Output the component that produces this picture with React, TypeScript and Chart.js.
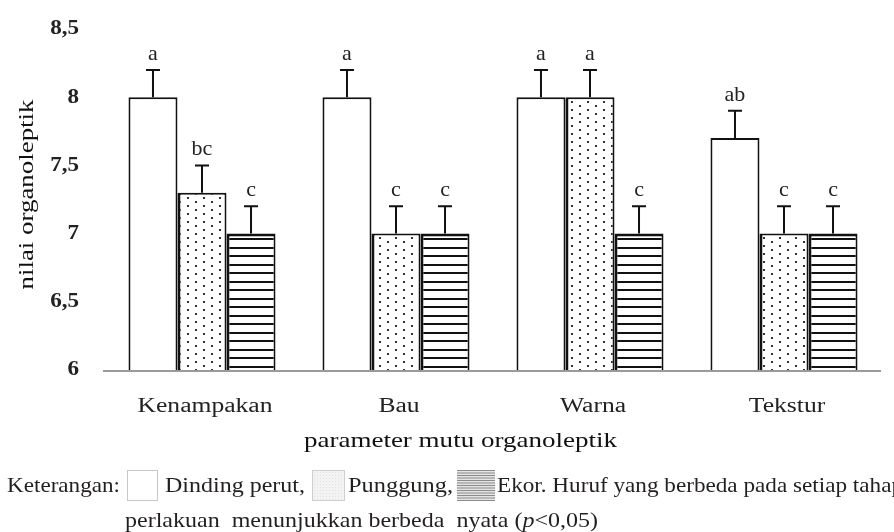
import React, { useEffect, useRef } from "react";
import { Chart, registerables } from "chart.js";

Chart.register(...registerables);

// ---------- data ----------
const categories = ["Kenampakan", "Bau", "Warna", "Tekstur"];
const seriesNames = ["Dinding perut", "Punggung", "Ekor"];
const dindingPerut = [8.0, 8.0, 8.0, 7.7];
const punggung = [7.3, 7.0, 8.0, 7.0];
const ekor = [7.0, 7.0, 7.0, 7.0];
const errDindingPerut = [0.2, 0.2, 0.2, 0.2];
const errPunggung = [0.2, 0.2, 0.2, 0.2];
const errEkor = [0.2, 0.2, 0.2, 0.2];
const lettersDindingPerut = ["a", "a", "a", "ab"];
const lettersPunggung = ["bc", "c", "a", "c"];
const lettersEkor = ["c", "c", "c", "c"];
const yTicks = [6, 6.5, 7, 7.5, 8, 8.5];
const yTickLabels = ["6", "6,5", "7", "7,5", "8", "8,5"];
const yTitle = "nilai organoleptik";
const xTitle = "parameter mutu organoleptik";

const seriesValues = [dindingPerut, punggung, ekor];
const seriesErrors = [errDindingPerut, errPunggung, errEkor];
const seriesLetters = [lettersDindingPerut, lettersPunggung, lettersEkor];

const SERIF = '"Liberation Serif", "Times New Roman", serif';

function drawText(
  ctx: CanvasRenderingContext2D,
  text: string,
  x: number,
  y: number,
  font: string,
  opts: { align?: CanvasTextAlign; sx?: number; width?: number; baseline?: CanvasTextBaseline; color?: string } = {}
) {
  ctx.save();
  ctx.font = font;
  ctx.fillStyle = opts.color ?? "#111";
  ctx.textBaseline = opts.baseline ?? "alphabetic";
  ctx.textAlign = opts.align ?? "left";
  let sx = opts.sx ?? 1;
  if (opts.width) sx = opts.width / ctx.measureText(text).width;
  ctx.translate(x, y);
  ctx.scale(sx, 1);
  ctx.fillText(text, 0, 0);
  ctx.restore();
}

function drawRich(
  ctx: CanvasRenderingContext2D,
  segs: { text: string; font: string }[],
  x: number,
  y: number,
  width: number,
  color: string
) {
  ctx.save();
  let total = 0;
  for (const s of segs) {
    ctx.font = s.font;
    total += ctx.measureText(s.text).width;
  }
  const sx = width / total;
  ctx.translate(x, y);
  ctx.scale(sx, 1);
  ctx.fillStyle = color;
  ctx.textBaseline = "alphabetic";
  ctx.textAlign = "left";
  let cx = 0;
  for (const s of segs) {
    ctx.font = s.font;
    ctx.fillText(s.text, cx, 0);
    cx += ctx.measureText(s.text).width;
  }
  ctx.restore();
}

const annotPlugin = {
  id: "annot",
  afterDatasetsDraw(chart: any) {
    const ctx: CanvasRenderingContext2D = chart.ctx;
    const xs = chart.scales.x;
    const ys = chart.scales.y;
    const area = chart.chartArea;
    ctx.save();

    // x axis line
    const y0 = ys.getPixelForValue(yTicks[0]) + 1;
    ctx.strokeStyle = "#9a9a9a";
    ctx.lineWidth = 2;
    ctx.beginPath();
    ctx.moveTo(area.left - 2, y0);
    ctx.lineTo(area.right, y0);
    ctx.stroke();

    // error bars + letters
    seriesValues.forEach((vals, d) => {
      const meta = chart.getDatasetMeta(d);
      meta.data.forEach((bar: any, i: number) => {
        const x = bar.x;
        const top = bar.y;
        const eY = ys.getPixelForValue(vals[i] + seriesErrors[d][i]);
        ctx.strokeStyle = "#111";
        ctx.lineWidth = 2;
        ctx.beginPath();
        ctx.moveTo(x, top);
        ctx.lineTo(x, eY);
        ctx.moveTo(x - 7, eY);
        ctx.lineTo(x + 7, eY);
        ctx.stroke();
        drawText(ctx, seriesLetters[d][i], x, eY - 10, `22px ${SERIF}`, { align: "center", sx: 1.0, color: "#222" });
      });
    });

    // y tick labels
    yTicks.forEach((v, i) => {
      drawText(ctx, yTickLabels[i], area.left - 26, ys.getPixelForValue(v), `bold 21px ${SERIF}`, {
        align: "right",
        baseline: "middle",
        sx: 1.1,
        color: "#222",
      });
    });

    // y title
    ctx.save();
    ctx.translate(27, (area.top + area.bottom) / 2 - 5);
    ctx.rotate(-Math.PI / 2);
    drawText(ctx, yTitle, 0, 0, `21px ${SERIF}`, { align: "center", baseline: "middle", width: 190, color: "#111" });
    ctx.restore();

    // x category labels
    categories.forEach((c, i) => {
      drawText(ctx, c, xs.getPixelForValue(i) + 3, area.bottom + 42, `20px ${SERIF}`, {
        align: "center",
        sx: 1.28,
        color: "#222",
      });
    });

    // x title
    drawText(ctx, xTitle, area.left + (area.right - area.left) * 0.458, area.bottom + 77, `22px ${SERIF}`, {
      align: "center",
      width: 313,
      color: "#111",
    });

    // legend / caption
    const lf = `21px ${SERIF}`;
    const lc = "#231f20";
    const by = 470;
    drawText(ctx, "Keterangan:", 7, 492, lf, { width: 113, color: lc });
    // box 1
    ctx.fillStyle = "#fff";
    ctx.fillRect(127, by, 31, 31);
    ctx.strokeStyle = "#c8c8c8";
    ctx.lineWidth = 1;
    ctx.strokeRect(127.5, by + 0.5, 30, 30);
    drawText(ctx, "Dinding perut,", 165, 492, lf, { width: 140, color: lc });
    // box 2
    ctx.fillStyle = "#f3f3f3";
    ctx.fillRect(312, by, 33, 31);
    ctx.fillStyle = "#e2e2e2";
    for (let yy = by + 2; yy < by + 30; yy += 3) {
      for (let xx = 313 + ((yy / 3) % 2 ? 1 : 0); xx < 344; xx += 3) ctx.fillRect(xx, yy, 1, 1);
    }
    ctx.strokeStyle = "#cfcfcf";
    ctx.strokeRect(312.5, by + 0.5, 32, 30);
    drawText(ctx, "Punggung,", 348, 492, lf, { width: 105, color: lc });
    // box 3
    ctx.fillStyle = "#e4e4e4";
    ctx.fillRect(457, by, 38, 31);
    ctx.fillStyle = "#8c8c8c";
    for (let yy = by; yy < by + 31; yy += 2.5) ctx.fillRect(457, yy, 38, 1);
    drawText(ctx, "Ekor. Huruf yang berbeda pada setiap tahap", 497, 492, lf, { width: 406, color: lc });

    drawRich(
      ctx,
      [
        { text: "perlakuan  menunjukkan berbeda  nyata (", font: lf },
        { text: "p", font: `italic 21px ${SERIF}` },
        { text: "<0,05)", font: lf },
      ],
      125,
      527,
      473,
      lc
    );

    ctx.restore();
  },
};

export default function App() {
  const ref = useRef<HTMLCanvasElement | null>(null);

  useEffect(() => {
    const canvas = ref.current;
    if (!canvas) return;
    const ctx = canvas.getContext("2d")!;

    const dotTile = document.createElement("canvas");
    dotTile.width = 16;
    dotTile.height = 8;
    const dg = dotTile.getContext("2d")!;
    dg.fillStyle = "#fff";
    dg.fillRect(0, 0, 16, 8);
    dg.fillStyle = "#333";
    dg.fillRect(3, 1, 2, 2);
    dg.fillRect(11, 5, 2, 2);
    const dotPattern = ctx.createPattern(dotTile, "repeat");

    const stripeTile = document.createElement("canvas");
    stripeTile.width = 4;
    stripeTile.height = 17;
    const sg = stripeTile.getContext("2d")!;
    sg.fillStyle = "#fff";
    sg.fillRect(0, 0, 4, 17);
    sg.fillStyle = "#111";
    sg.fillRect(0, 0, 4, 2);
    sg.fillRect(0, 9, 4, 2);
    const stripePattern = ctx.createPattern(stripeTile, "repeat");

    const fills = ["#ffffff", dotPattern, stripePattern];
    const borders = [
      2,
      { top: 2, left: 3, right: 2, bottom: 0 },
      { top: 3, left: 3, right: 2, bottom: 0 },
    ];

    const chart = new Chart(canvas, {
      type: "bar",
      data: {
        labels: categories,
        datasets: seriesValues.map((vals, d) => ({
          label: seriesNames[d],
          data: vals,
          backgroundColor: fills[d] as any,
          borderColor: "#111",
          borderWidth: borders[d] as any,
          barPercentage: 1,
          categoryPercentage: 0.758,
        })),
      },
      options: {
        responsive: false,
        animation: false,
        devicePixelRatio: 1,
        layout: { padding: { left: 105, right: 13, top: 29, bottom: 162 } },
        scales: {
          x: { display: false },
          y: { display: false, min: yTicks[0], max: yTicks[yTicks.length - 1] },
        },
        plugins: {
          legend: { display: false },
          tooltip: { enabled: false },
        },
      },
      plugins: [annotPlugin],
    });
    return () => chart.destroy();
  }, []);

  return (
    <div style={{ position: "absolute", left: 0, top: 0, width: 894, height: 532, background: "#fff" }}>
      <canvas ref={ref} width={894} height={532} style={{ display: "block" }} />
    </div>
  );
}
